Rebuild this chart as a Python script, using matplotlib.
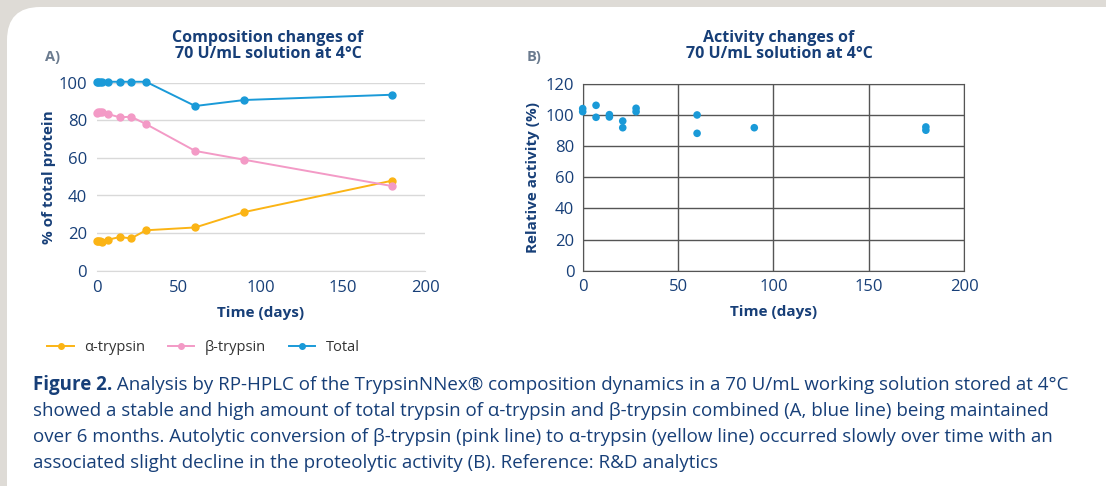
import matplotlib
matplotlib.use('Agg')
import matplotlib.pyplot as plt
from matplotlib.patches import FancyBboxPatch

plt.rcParams['font.family'] = ['Open Sans', 'DejaVu Sans']

# composition data (panel A)
days_a = [0, 1, 2, 3, 7, 14, 21, 30, 60, 90, 180]
alpha = [16.0, 15.8, 15.6, 15.2, 16.5, 17.9, 17.2, 21.5, 23.0, 31.2, 47.9]
beta = [84.0, 84.3, 84.5, 84.5, 83.3, 81.6, 81.9, 78.0, 63.7, 59.0, 45.0]
total = [100.5, 100.5, 100.5, 100.5, 100.5, 100.5, 100.5, 100.5, 87.6, 90.8, 93.6]

# activity data (panel B)
days_b = [0, 0, 7, 7, 14, 14, 21, 21, 28, 28, 60, 60, 90, 180, 180]
activity = [104.2, 102.2, 106.3, 98.6, 100.3, 98.8, 96.2, 91.9, 104.4, 102.2,
            100.1, 88.3, 91.9, 92.4, 90.3]

navy = '#173f78'
c_alpha = '#fbb415'
c_beta = '#f39ac6'
c_total = '#1a9ad8'

W, H = 1106, 486
fig = plt.figure(figsize=(W / 100, H / 100), dpi=100)
fig.patch.set_facecolor('#dedbd6')
card = FancyBboxPatch((7 / W, -0.1), 1.1, (H - 7) / H + 0.1,
                      boxstyle='round,pad=0,rounding_size=0.03',
                      transform=fig.transFigure, facecolor='white',
                      edgecolor='none', zorder=-10, mutation_aspect=W / H)
fig.patches.append(card)

# ---- panel A
ax1 = fig.add_axes([96.7 / W, (H - 270.7) / H, 328.3 / W, 188 / H])
ax1.set_facecolor('none')
for y, c, lab in [(alpha, c_alpha, 'α-trypsin'), (beta, c_beta, 'β-trypsin'),
                  (total, c_total, 'Total')]:
    ax1.plot(days_a, y, color=c, lw=1.4, marker='o', ms=5, label=lab,
             clip_on=False)
ax1.set_xlim(0, 200)
ax1.set_ylim(0, 100)
ax1.set_yticks(range(0, 101, 20))
ax1.set_xticks(range(0, 201, 50))
ax1.grid(axis='y', color='#d9d9d9', lw=1)
ax1.set_axisbelow(True)
for s in ['top', 'right', 'left']:
    ax1.spines[s].set_visible(False)
ax1.spines['bottom'].set_color('#d9d9d9')
ax1.tick_params(length=0, labelsize=12, labelcolor=navy, pad=7)
ax1.set_xlabel('Time (days)', fontsize=11, fontweight='bold', color=navy,
               labelpad=7)
ax1.set_ylabel('% of total protein', fontsize=11, fontweight='bold',
               color=navy, labelpad=2)
leg = ax1.legend(loc='upper left', bbox_to_anchor=(-0.19, -0.30), ncol=3,
                 frameon=False, fontsize=10.5, handlelength=1.8,
                 columnspacing=1.6, handletextpad=0.7, markerscale=0.8)
for t in leg.get_texts():
    t.set_color('#333333')

# ---- panel B
ax2 = fig.add_axes([582.7 / W, (H - 270.7) / H, 381.3 / W, 186.7 / H])
ax2.set_facecolor('none')
ax2.scatter(days_b, activity, s=30, color=c_total, zorder=3, clip_on=False,
            edgecolors='none')
ax2.set_xlim(0, 200)
ax2.set_ylim(0, 120)
ax2.set_yticks(range(0, 121, 20))
ax2.set_xticks(range(0, 201, 50))
ax2.grid(color='#555555', lw=1)
ax2.set_axisbelow(True)
for s in ax2.spines.values():
    s.set_color('#555555')
ax2.tick_params(length=0, labelsize=12, labelcolor=navy, pad=6)
ax2.set_xlabel('Time (days)', fontsize=11, fontweight='bold', color=navy,
               labelpad=7)
ax2.set_ylabel('Relative activity (%)', fontsize=11, fontweight='bold',
               color=navy, labelpad=4)

# titles and panel letters
for x, title in [(268, 'Composition changes of\n70 U/mL solution at 4°C'),
                 (779, 'Activity changes of\n70 U/mL solution at 4°C')]:
    fig.text(x / W, 1 - 46 / H, title, ha='center', va='center',
             fontsize=11.5, fontweight='bold', color=navy, linespacing=1.05)
fig.text(45 / W, 1 - 57 / H, 'A)', ha='left', va='center', fontsize=10.5,
         fontweight='bold', color='#6b7b8f')
fig.text(527 / W, 1 - 57 / H, 'B)', ha='left', va='center', fontsize=10.5,
         fontweight='bold', color='#6b7b8f')

# caption
lines = [
    ' Analysis by RP-HPLC of the TrypsinNNex® composition dynamics in a 70 U/mL working solution stored at 4°C',
    'showed a stable and high amount of total trypsin of α-trypsin and β-trypsin combined (A, blue line) being maintained',
    'over 6 months. Autolytic conversion of β-trypsin (pink line) to α-trypsin (yellow line) occurred slowly over time with an',
    'associated slight decline in the proteolytic activity (B). Reference: R&D analytics',
]
ys = [385, 411, 437, 463]
bold = fig.text(33 / W, 1 - ys[0] / H, 'Figure 2.', fontsize=13.5,
                fontweight='bold', color=navy, va='center')
fig.canvas.draw()
bb = bold.get_window_extent()
fig.text(bb.x1 / W, 1 - ys[0] / H, lines[0], fontsize=13.5, color=navy,
         va='center')
for ln, y in zip(lines[1:], ys[1:]):
    fig.text(33 / W, 1 - y / H, ln, fontsize=13.5, color=navy, va='center')

fig.savefig('out.png', dpi=100, facecolor=fig.get_facecolor())
